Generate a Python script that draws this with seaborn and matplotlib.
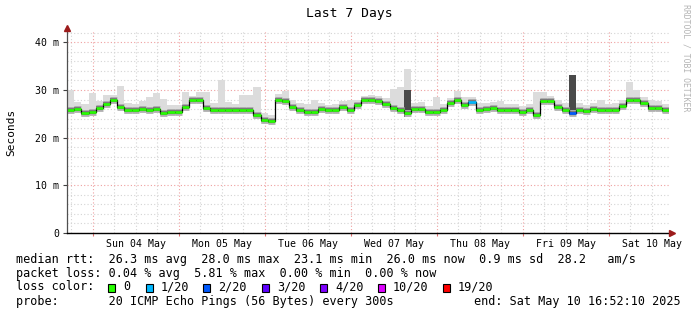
import numpy as np
import pandas as pd
import matplotlib
matplotlib.use("Agg")
import matplotlib.pyplot as plt
import matplotlib.dates as mdates
import matplotlib.ticker as mticker
from matplotlib.patches import Rectangle
import seaborn as sns

# ---------------- data ----------------
start = pd.Timestamp("2025-05-03 16:52:10")
end = pd.Timestamp("2025-05-10 16:52:10")
step_hours = 2

median_ms = [
    25.8, 26.0, 25.2, 25.4, 26.2, 27.0, 27.8, 26.5, 25.7, 25.7, 26.1, 25.8,
    26.0, 25.2, 25.4, 25.4, 26.5, 27.8, 27.8, 26.2, 25.8, 25.8, 25.8, 25.7,
    25.7, 25.7, 24.8, 23.6, 23.5, 27.9, 27.6, 26.5, 25.8, 25.4, 25.4, 26.0,
    25.7, 25.8, 26.4, 25.8, 26.8, 27.9, 27.9, 27.7, 27.0, 26.3, 25.8, 25.2,
    26.0, 26.1, 25.4, 25.4, 25.7, 27.3, 27.8, 26.8, 27.4, 25.8, 26.0, 26.2,
    25.8, 25.8, 25.8, 25.4, 25.7, 24.8, 27.6, 27.6, 26.5, 25.9, 25.1, 25.8,
    25.6, 26.0, 25.7, 25.7, 25.9, 26.7, 27.9, 27.9, 27.2, 26.2, 26.3, 25.9,
]
ping_max_ms = [
    30.0, 27.5, 27.0, 29.4, 27.6, 28.9, 28.9, 30.8, 27.2, 27.0, 27.6, 28.5,
    29.4, 28.2, 26.8, 26.9, 29.6, 28.8, 29.6, 29.6, 27.2, 32.2, 27.4, 27.0,
    28.9, 28.9, 30.6, 25.2, 24.8, 29.2, 29.8, 27.8, 27.3, 27.0, 27.9, 27.3,
    26.9, 27.0, 27.6, 28.0, 28.0, 28.8, 28.9, 28.7, 28.3, 30.3, 30.7, 34.5,
    27.3, 27.4, 26.7, 28.6, 27.0, 28.4, 29.8, 28.6, 28.6, 27.2, 27.3, 27.4,
    27.7, 27.0, 27.0, 26.6, 27.0, 29.6, 29.6, 28.8, 28.0, 27.3, 33.1, 27.3,
    26.9, 27.2, 27.9, 27.0, 27.2, 28.0, 31.7, 30.1, 28.5, 27.9, 27.6, 27.0,
]
ping_min_ms = [
    25.0, 25.2, 24.4, 24.6, 25.4, 26.2, 27.0, 25.7, 24.9, 24.9, 25.3, 25.0,
    25.2, 24.4, 24.6, 24.6, 25.7, 27.0, 27.0, 25.4, 25.0, 25.0, 24.9, 24.9,
    24.9, 24.9, 24.0, 22.9, 22.8, 27.1, 26.8, 25.7, 25.0, 24.6, 24.6, 25.2,
    24.9, 25.0, 25.6, 25.0, 26.0, 27.1, 27.1, 26.9, 26.2, 25.5, 25.0, 24.3,
    25.2, 25.3, 24.6, 24.6, 24.9, 26.5, 27.0, 26.0, 26.6, 25.0, 25.2, 25.4,
    25.0, 25.0, 25.0, 24.6, 24.9, 24.0, 26.8, 26.8, 25.7, 25.1, 24.5, 25.0,
    24.8, 25.2, 24.9, 24.9, 25.1, 25.9, 27.1, 27.1, 26.4, 25.4, 25.5, 25.1,
]
loss_count = [
    0, 0, 0, 0, 0, 0, 0, 0, 0, 0, 0, 0,
    0, 0, 0, 0, 0, 0, 0, 0, 0, 0, 0, 0,
    0, 0, 0, 0, 0, 0, 0, 0, 0, 0, 0, 0,
    0, 0, 0, 0, 0, 0, 0, 0, 0, 0, 0, 0,
    0, 0, 0, 0, 0, 0, 0, 0, 1, 0, 0, 0,
    0, 0, 0, 0, 0, 0, 0, 0, 0, 0, 2, 0,
    0, 0, 0, 0, 0, 0, 0, 0, 0, 0, 0, 0,
]
dense_slots = [47, 70]
dense_low_ms = [24.4, 25.1]
dense_high_ms = [30.0, 33.1]

loss_labels = ["0", "1/20", "2/20", "3/20", "4/20", "10/20", "19/20"]
loss_thresholds = [0, 1, 2, 3, 4, 10, 19]
loss_colors = ["#26ff00", "#00b8ff", "#0059ff", "#5e00ff", "#7e00ff", "#dd00ff", "#ff0000"]

day_numbers = [4, 5, 6, 7, 8, 9, 10]
day_labels = ["Sun 04 May", "Mon 05 May", "Tue 06 May", "Wed 07 May",
              "Thu 08 May", "Fri 09 May", "Sat 10 May"]
ytick_values = [0, 10, 20, 30, 40]
ytick_labels = ["0", "10 m", "20 m", "30 m", "40 m"]

legend_rtt = "median rtt:  26.3 ms avg  28.0 ms max  23.1 ms min  26.0 ms now  0.9 ms sd  28.2   am/s"
legend_loss = "packet loss: 0.04 % avg  5.81 % max  0.00 % min  0.00 % now"
legend_probe = "probe:       20 ICMP Echo Pings (56 Bytes) every 300s"
legend_end = "end: Sat May 10 16:52:10 2025"

# ---------------- figure ----------------
sns.set_theme(style="white")
plt.rcParams["font.family"] = ["DejaVu Sans Mono", "DejaVu Sans"]

W, H = 697, 315
fig = plt.figure(figsize=(W / 100, H / 100), dpi=100)
fig.patch.set_facecolor("white")

def fx(x):
    return x / W

def fy(y):
    return 1 - y / H

ymax = 42.3
ax_top = 233 - ymax * 4.767
ax = fig.add_axes([fx(67), fy(233), (669 - 67) / W, (233 - ax_top) / H])
ax.set_facecolor("white")

n = len(median_ms)
edges = pd.date_range(start, periods=n + 1, freq=f"{step_hours}h")
t0 = edges[:-1]
t1 = edges[1:]
med = np.array(median_ms)
med_ext = np.append(med, med[-1])
hi_ext = np.append(ping_max_ms, ping_max_ms[-1])
lo_ext = np.append(ping_min_ms, ping_min_ms[-1])

# smoke
ax.fill_between(edges, lo_ext, hi_ext, step="post", color="#dcdcdc", lw=0, zorder=2)
for s, lo, hi in zip(dense_slots, dense_low_ms, dense_high_ms):
    ax.fill_between(edges[s:s + 2], [lo, lo], [hi, hi], color="#4a4a4a", lw=0, zorder=2.5)

ax.hlines(med, t0, t1, colors="#b8b8b8", lw=5.0, capstyle="butt", zorder=3)
ax.hlines(med, t0, t1, colors="#7a7a7a", lw=3.1, capstyle="butt", zorder=3.2)

df = pd.DataFrame({"time": edges, "median": med_ext})
sns.lineplot(data=df, x="time", y="median", drawstyle="steps-post",
             color="black", lw=0.9, ax=ax, zorder=3.5)

def loss_color(c):
    idx = 0
    for i, th in enumerate(loss_thresholds):
        if c >= th:
            idx = i
    return loss_colors[idx]

ax.hlines(med, t0, t1, colors=[loss_color(c) for c in loss_count], lw=1.9,
          capstyle="butt", zorder=4)

# axes
ax.set_xlim(start, end)
ax.set_ylim(0, ymax)
ax.set_xlabel("")
ax.set_ylabel("")

ax.xaxis.set_major_locator(mdates.HourLocator(byhour=[0]))
ax.xaxis.set_minor_locator(mdates.HourLocator(byhour=[6, 12, 18]))
ax.xaxis.set_major_formatter(mticker.NullFormatter())
label_map = dict(zip(day_numbers, day_labels))

def minor_fmt(x, pos):
    d = mdates.num2date(x)
    if d.hour == 12:
        return label_map.get(d.day, "")
    return ""

ax.xaxis.set_minor_formatter(mticker.FuncFormatter(minor_fmt))
ax.yaxis.set_major_locator(mticker.FixedLocator(ytick_values))
ax.yaxis.set_major_formatter(mticker.FixedFormatter(ytick_labels))
ax.yaxis.set_minor_locator(mticker.MultipleLocator(2))

ax.tick_params(axis="x", which="major", length=2.5, width=0.8, color="#e07070",
               direction="out", bottom=True)
ax.tick_params(axis="x", which="minor", length=0, pad=4, labelsize=7.1,
               labelcolor="black", bottom=True)
ax.tick_params(axis="y", which="major", length=3, width=0.8, color="#404040",
               direction="out", pad=2.5, labelsize=7.1, labelcolor="black", left=True)
ax.tick_params(axis="y", which="minor", length=0, left=False)

ax.set_axisbelow(True)
ax.grid(which="minor", color="#d4d4d4", ls=(0, (1, 2)), lw=0.8)
ax.grid(which="major", color="#efa0a0", ls=(0, (1, 2)), lw=0.8)

for side in ["top", "right"]:
    ax.spines[side].set_visible(False)
ax.spines["left"].set_color("#505050")
ax.spines["left"].set_linewidth(0.9)
ax.spines["bottom"].set_color("black")
ax.spines["bottom"].set_linewidth(1.0)
ax.spines["left"].set_zorder(5)
ax.spines["bottom"].set_zorder(5)

arrow_c = "#9c1b1b"
ah = ax.get_position().height * H
aw = ax.get_position().width * W
ax.plot([0, 0], [1, 1 + 2 / ah], color="#505050", lw=0.9, transform=ax.transAxes, clip_on=False)
ax.plot([0], [1 + 3.0 / ah], marker="^", ms=4.2, color=arrow_c, mec=arrow_c,
        transform=ax.transAxes, clip_on=False, zorder=6)
ax.plot([1, 1 + 2 / aw], [0, 0], color="black", lw=1.0, transform=ax.transAxes, clip_on=False)
ax.plot([1 + 3.0 / aw], [0], marker=">", ms=4.2, color=arrow_c, mec=arrow_c,
        transform=ax.transAxes, clip_on=False, zorder=6)

# texts
fig.text(fx(349), fy(13), "Last 7 Days", ha="center", va="center", fontsize=9.4, color="black")
fig.text(fx(11), fy(132), "Seconds", rotation=90, ha="center", va="center", fontsize=8, color="black")
fig.text(fx(686), fy(4), "RRDTOOL / TOBI OETIKER", rotation=270, ha="center", va="top",
         fontsize=5.9, color="#b4b4b4")

lfs = 8.5
fig.text(fx(16), fy(259), legend_rtt, ha="left", va="center", fontsize=lfs, color="black")
fig.text(fx(16), fy(273), legend_loss, ha="left", va="center", fontsize=lfs, color="black")
fig.text(fx(16), fy(287), "loss color:", ha="left", va="center", fontsize=lfs, color="black")
sq_x = [108, 146, 203, 262, 320, 378, 443]
for xs, lab, col in zip(sq_x, loss_labels, loss_colors):
    fig.add_artist(Rectangle((fx(xs), fy(291.5)), 7 / W, 8 / H, transform=fig.transFigure,
                             facecolor=col, edgecolor="black", lw=0.8))
    fig.text(fx(xs + 15), fy(287), lab, ha="left", va="center", fontsize=lfs, color="black")
fig.text(fx(16), fy(301), legend_probe, ha="left", va="center", fontsize=lfs, color="black")
fig.text(fx(681), fy(301), legend_end, ha="right", va="center", fontsize=lfs, color="black")

fig.savefig("out.png", dpi=100, facecolor="white")
